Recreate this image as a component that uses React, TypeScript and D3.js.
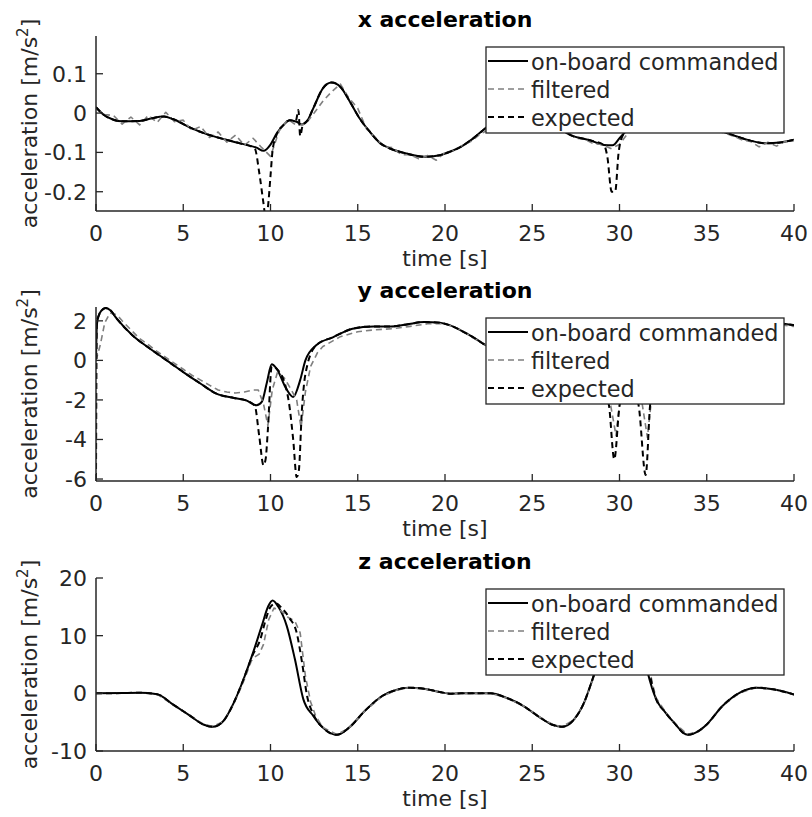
import React, { useRef, useEffect } from "react";
import * as d3 from "d3";

// ---- data ----
const timeTicks = [0, 5, 10, 15, 20, 25, 30, 35, 40];
const legendLabels = ["on-board commanded", "filtered", "expected"];
const panelTitles = ["x acceleration", "y acceleration", "z acceleration"];

// x acceleration
const xTicks = [-0.2, -0.1, 0, 0.1];
const xCmdTime = [0, 0.4, 1.0, 1.5, 2.5, 3.2, 3.9, 4.4, 5.4, 6.3, 7.3, 8.25, 9.2, 9.6, 10.0, 10.35, 10.75, 11.1, 11.5, 11.8, 12.1, 12.45, 13.0, 13.5, 14.0, 14.55, 15.1, 15.7, 16.3, 16.85, 17.8, 18.8, 19.7, 20.3, 20.9, 21.6, 22.3, 23.0, 24.0, 25.0, 26.0, 26.6, 27.2, 28.3, 29.1, 29.6, 30.0, 30.4, 31.5, 33.0, 34.5, 35.8, 36.5, 37.5, 38.4, 39.2, 40];
const xCmdVal = [0.015, -0.003, -0.017, -0.021, -0.02, -0.013, -0.009, -0.015, -0.037, -0.053, -0.066, -0.077, -0.088, -0.096, -0.08, -0.052, -0.03, -0.018, -0.022, -0.029, -0.02, 0.012, 0.063, 0.078, 0.067, 0.029, -0.013, -0.048, -0.077, -0.09, -0.103, -0.111, -0.107, -0.098, -0.086, -0.065, -0.039, -0.015, 0.0, 0.0, -0.02, -0.04, -0.056, -0.069, -0.081, -0.082, -0.064, -0.045, -0.02, -0.005, -0.02, -0.045, -0.056, -0.07, -0.077, -0.075, -0.068];
const xFiltTime = [0, 0.5, 1, 1.5, 2, 2.5, 3, 3.5, 4, 4.5, 5, 5.5, 6, 6.5, 7, 7.5, 8, 8.5, 9, 9.5, 10, 10.5, 11, 11.5, 12, 12.5, 13, 13.5, 14, 14.5, 15, 15.5, 16, 16.5, 17, 17.5, 18, 18.5, 19, 19.5, 20, 20.5, 21, 21.5, 22, 22.5, 23, 23.5, 24, 24.5, 25, 25.5, 26, 26.5, 27, 27.5, 28, 28.5, 29, 29.5, 30, 30.5, 31, 31.5, 32, 32.5, 33, 33.5, 34, 34.5, 35, 35.5, 36, 36.5, 37, 37.5, 38, 38.5, 39, 39.5, 40];
const xFiltVal = [0.012, -0.004, -0.006, -0.028, -0.01, -0.03, -0.006, -0.024, 0.002, -0.022, -0.018, -0.044, -0.034, -0.062, -0.048, -0.074, -0.056, -0.082, -0.064, -0.088, -0.11, -0.045, -0.016, -0.032, -0.028, 0.0, 0.03, 0.054, 0.074, 0.038, 0.012, -0.04, -0.062, -0.086, -0.088, -0.106, -0.106, -0.116, -0.108, -0.12, -0.1, -0.096, -0.082, -0.072, -0.054, -0.042, -0.02, -0.014, -0.002, -0.006, 0.004, -0.012, -0.018, -0.036, -0.048, -0.064, -0.066, -0.078, -0.08, -0.09, -0.08, -0.05, -0.04, -0.03, -0.016, -0.012, 0.0, -0.012, -0.008, -0.026, -0.028, -0.046, -0.05, -0.058, -0.068, -0.072, -0.086, -0.074, -0.084, -0.072, -0.07];
const xExpTime = [0, 0.4, 1.0, 1.5, 2.5, 3.2, 3.9, 4.4, 5.4, 6.3, 7.3, 8.25, 9.1, 9.35, 9.6, 9.72, 9.85, 10.0, 10.12, 10.35, 10.75, 11.1, 11.45, 11.6, 11.7, 11.85, 12.1, 12.45, 13.0, 13.5, 14.0, 14.55, 15.1, 15.7, 16.3, 16.85, 17.8, 18.8, 19.7, 20.3, 20.9, 21.6, 22.3, 23.0, 24.0, 25.0, 26.0, 26.6, 27.2, 28.3, 29.1, 29.3, 29.55, 29.75, 29.95, 30.1, 30.4, 31.5, 33.0, 34.5, 35.8, 36.5, 37.5, 38.4, 39.2, 40];
const xExpVal = [0.015, -0.003, -0.017, -0.021, -0.02, -0.013, -0.009, -0.015, -0.037, -0.053, -0.066, -0.077, -0.09, -0.15, -0.23, -0.265, -0.24, -0.16, -0.095, -0.055, -0.03, -0.018, -0.02, 0.008, -0.058, -0.03, -0.02, 0.012, 0.063, 0.078, 0.067, 0.029, -0.013, -0.048, -0.077, -0.09, -0.103, -0.111, -0.107, -0.098, -0.086, -0.065, -0.039, -0.015, 0.0, 0.0, -0.02, -0.04, -0.056, -0.069, -0.081, -0.11, -0.2, -0.2, -0.1, -0.066, -0.045, -0.02, -0.005, -0.02, -0.045, -0.056, -0.07, -0.077, -0.075, -0.068];

// y acceleration
const yTicks = [-6, -4, -2, 0, 2];
const yCmdTime = [0, 0.05, 0.15, 0.3, 0.55, 0.8, 1.2, 2.1, 3.1, 4.05, 5.0, 6.0, 6.9, 7.9, 8.6, 9.2, 9.5, 9.8, 10.07, 10.35, 10.9, 11.3, 11.7, 12.0, 12.6, 13.6, 14.7, 15.9, 16.9, 17.8, 18.8, 19.7, 20.3, 20.9, 21.6, 22.2, 23, 24, 25, 26, 27, 28, 29, 29.5, 30, 30.5, 31, 31.5, 32, 33, 34, 35, 36, 37, 38, 39, 39.5, 40];
const yCmdVal = [0, 1.8, 2.25, 2.5, 2.65, 2.55, 2.1, 1.26, 0.59, 0.0, -0.59, -1.18, -1.68, -1.9, -2.02, -2.27, -2.1, -1.09, -0.2, -0.42, -1.43, -1.85, -1.0, 0.0, 0.75, 1.18, 1.6, 1.72, 1.72, 1.82, 1.94, 1.9, 1.77, 1.52, 1.18, 0.84, 0.5, 0.2, 0.0, 0.1, 0.3, 0.0, -1.2, -2.0, -1.0, -0.5, -1.0, -1.8, -0.8, 0.5, 1.2, 1.5, 1.7, 1.8, 1.9, 1.88, 1.84, 1.78];
const yFiltTime = [0, 0.25, 0.5, 0.8, 1.2, 1.5, 2.0, 2.5, 3.0, 3.5, 4.0, 4.5, 5.0, 5.5, 6.0, 6.5, 7.0, 7.5, 8.0, 8.5, 9.0, 9.3, 9.6, 9.85, 10.1, 10.4, 10.8, 11.2, 11.5, 11.75, 12.0, 12.3, 12.7, 13.0, 13.5, 14.0, 15, 16, 17, 18, 19, 20, 20.5, 21, 21.5, 22, 22.5, 23, 24, 25, 26, 27, 28, 29, 29.5, 29.8, 30.1, 30.5, 31, 31.3, 31.6, 31.9, 32.5, 33, 34, 35, 36, 37, 38, 39, 40];
const yFiltVal = [0, 0.8, 1.9, 2.4, 2.3, 2.0, 1.55, 1.1, 0.8, 0.45, 0.15, -0.15, -0.45, -0.75, -1.0, -1.25, -1.5, -1.6, -1.65, -1.6, -1.5, -1.5, -2.2, -3.3, -1.5, -0.6, -0.9, -1.5, -2.0, -3.4, -1.6, -0.3, 0.4, 0.7, 0.95, 1.2, 1.45, 1.55, 1.6, 1.72, 1.85, 1.85, 1.7, 1.5, 1.2, 0.95, 0.7, 0.4, 0.15, -0.05, 0.05, 0.2, -0.1, -1.3, -2.3, -3.8, -1.5, -0.6, -1.2, -2.2, -3.9, -1.4, -0.5, 0.3, 1.0, 1.4, 1.6, 1.75, 1.85, 1.82, 1.72];
const yExpTime = [0, 0.05, 0.15, 0.3, 0.55, 0.8, 1.2, 2.1, 3.1, 4.05, 5.0, 6.0, 6.9, 7.9, 8.6, 9.1, 9.35, 9.6, 9.72, 9.85, 10.07, 10.35, 10.9, 11.05, 11.3, 11.5, 11.62, 11.8, 12.0, 12.6, 13.6, 14.7, 15.9, 16.9, 17.8, 18.8, 19.7, 20.3, 20.9, 21.6, 22.2, 23, 24, 25, 26, 27, 28, 29, 29.4, 29.7, 30.0, 30.5, 31.1, 31.5, 31.75, 32, 33, 34, 35, 36, 37, 38, 39, 39.5, 40];
const yExpVal = [-6.0, 2.0, 2.25, 2.5, 2.65, 2.55, 2.1, 1.26, 0.59, 0.0, -0.59, -1.18, -1.68, -1.9, -2.02, -2.3, -3.8, -5.3, -5.0, -3.5, -0.3, -0.42, -1.43, -2.1, -4.0, -5.9, -5.6, -2.5, -0.7, 0.75, 1.18, 1.6, 1.72, 1.72, 1.82, 1.94, 1.9, 1.77, 1.52, 1.18, 0.84, 0.5, 0.2, 0.0, 0.1, 0.3, 0.0, -1.2, -2.3, -5.0, -2.3, -0.8, -2.3, -5.8, -2.3, -0.8, 0.5, 1.2, 1.5, 1.7, 1.8, 1.9, 1.88, 1.84, 1.78];

// z acceleration
const zTicks = [-10, 0, 10, 20];
const zCmdTime = [0, 1.5, 2.5, 3.5, 4.4, 5.4, 6.15, 6.7, 7.3, 7.9, 8.45, 9.0, 9.5, 9.87, 10.12, 10.45, 10.93, 11.4, 11.88, 12.45, 13.0, 13.8, 14.5, 15.4, 16.4, 17.2, 17.9, 18.8, 19.7, 20.3, 20.9, 22.6, 23.5, 24.5, 25.45, 26.2, 26.7, 27.4, 27.97, 28.45, 29.0, 29.5, 29.9, 30.2, 30.6, 31.1, 31.6, 32.1, 32.6, 33.1, 33.9, 34.5, 35.0, 35.9, 36.9, 37.85, 38.8, 40];
const zCmdVal = [0, 0.05, 0.1, -0.15, -1.9, -3.9, -5.4, -5.8, -4.8, -1.6, 2.4, 7.05, 11.7, 15.1, 16.1, 15.0, 11.7, 5.9, -1.0, -3.9, -5.95, -7.2, -5.95, -3.06, -0.46, 0.58, 0.98, 0.8, 0.23, -0.06, 0.0, 0.0, -0.75, -2.2, -4.2, -5.5, -5.8, -4.5, -1.6, 2.4, 7.5, 12.5, 15.5, 16.0, 15.0, 11.0, 3.8, -1.0, -3.2, -5.0, -7.2, -6.6, -5.4, -2.2, 0.12, 0.98, 0.69, -0.2];
const zFiltTime = [0, 1.5, 2.5, 3.5, 4.4, 5.4, 6.15, 6.7, 7.3, 7.9, 8.45, 8.9, 9.1, 9.35, 9.6, 9.9, 10.2, 10.6, 11.0, 11.4, 11.7, 12.0, 12.3, 12.6, 13.0, 13.8, 14.5, 15.4, 16.4, 17.2, 17.9, 18.8, 19.7, 20.3, 20.9, 22.6, 23.5, 24.5, 25.45, 26.2, 26.7, 27.4, 27.97, 28.45, 29.0, 29.5, 29.9, 30.2, 30.6, 31.1, 31.6, 31.9, 32.1, 32.6, 33.1, 33.9, 34.5, 35.0, 35.9, 36.9, 37.85, 38.8, 40];
const zFiltVal = [0, 0.05, 0.1, -0.15, -1.95, -3.9, -5.35, -5.75, -4.9, -1.8, 2.0, 5.6, 6.3, 6.8, 8.5, 12.8, 14.8, 14.3, 13.2, 12.5, 10.5, 3.0, -1.5, -4.0, -5.9, -7.15, -6.0, -3.1, -0.5, 0.55, 0.98, 0.8, 0.25, -0.05, 0.0, 0.0, -0.75, -2.2, -4.15, -5.45, -5.8, -4.6, -1.7, 2.2, 7.0, 12.0, 15.0, 15.8, 15.0, 12.0, 6.0, 1.5, -0.8, -3.1, -5.0, -7.15, -6.6, -5.4, -2.2, 0.12, 0.98, 0.7, -0.2];
const zExpTime = [0, 1.5, 2.5, 3.5, 4.4, 5.4, 6.15, 6.7, 7.3, 7.9, 8.45, 9.0, 9.4, 9.7, 10.0, 10.3, 10.7, 11.1, 11.5, 11.8, 12.1, 12.45, 13.0, 13.8, 14.5, 15.4, 16.4, 17.2, 17.9, 18.8, 19.7, 20.3, 20.9, 22.6, 23.5, 24.5, 25.45, 26.2, 26.7, 27.4, 27.97, 28.45, 29.0, 29.5, 29.9, 30.2, 30.6, 31.1, 31.6, 31.9, 32.1, 32.6, 33.1, 33.9, 34.5, 35.0, 35.9, 36.9, 37.85, 38.8, 40];
const zExpVal = [0, 0.05, 0.1, -0.15, -1.9, -3.9, -5.4, -5.8, -4.8, -1.6, 2.4, 6.8, 9.2, 12.5, 15.0, 15.6, 14.6, 13.0, 10.5, 5.5, -0.5, -3.6, -5.95, -7.2, -5.95, -3.06, -0.46, 0.58, 0.98, 0.8, 0.23, -0.06, 0.0, 0.0, -0.75, -2.2, -4.2, -5.5, -5.8, -4.5, -1.6, 2.4, 7.3, 12.2, 15.2, 15.9, 15.0, 11.5, 5.5, 1.0, -1.0, -3.2, -5.0, -7.2, -6.6, -5.4, -2.2, 0.12, 0.98, 0.69, -0.2];

// ---- layout ----
const FONT = "DejaVu Sans, sans-serif";
const TEXT = "#262626";
const LEFT = 96;
const RIGHT = 794;

const panels = [
  { title: panelTitles[0], top: 36, bottom: 211, domain: [-0.249, 0.196], ticks: xTicks,
    cmd: [xCmdTime, xCmdVal], filt: [xFiltTime, xFiltVal], exp: [xExpTime, xExpVal] },
  { title: panelTitles[1], top: 307, bottom: 481, domain: [-6.1, 2.7], ticks: yTicks,
    cmd: [yCmdTime, yCmdVal], filt: [yFiltTime, yFiltVal], exp: [yExpTime, yExpVal] },
  { title: panelTitles[2], top: 578, bottom: 751, domain: [-10, 20], ticks: zTicks,
    cmd: [zCmdTime, zCmdVal], filt: [zFiltTime, zFiltVal], exp: [zExpTime, zExpVal] },
];

const seriesStyles = [
  { key: "cmd", color: "#000000", width: 2, dash: null, curve: d3.curveMonotoneX },
  { key: "filt", color: "#7f7f7f", width: 1.6, dash: "6,4", curve: d3.curveLinear },
  { key: "exp", color: "#000000", width: 2, dash: "6,4", curve: d3.curveMonotoneX },
];

export default function App() {
  const svgRef = useRef(null);

  useEffect(() => {
    const svg = d3.select(svgRef.current);
    svg.selectAll("*").remove();

    const x = d3.scaleLinear().domain([0, 40]).range([LEFT, RIGHT]);

    panels.forEach((p, pi) => {
      const y = d3.scaleLinear().domain(p.domain).range([p.bottom, p.top]);
      const g = svg.append("g");

      const clipId = `clip-${pi}`;
      g.append("clipPath")
        .attr("id", clipId)
        .append("rect")
        .attr("x", LEFT)
        .attr("y", p.top)
        .attr("width", RIGHT - LEFT)
        .attr("height", p.bottom - p.top);

      // data lines
      const plot = g.append("g").attr("clip-path", `url(#${clipId})`);
      seriesStyles.forEach((s) => {
        const [ts, vs] = p[s.key];
        const pts = ts.map((t, i) => [t, vs[i]]);
        const line = d3
          .line()
          .x((d) => x(d[0]))
          .y((d) => y(d[1]))
          .curve(s.curve);
        plot
          .append("path")
          .attr("d", line(pts))
          .attr("fill", "none")
          .attr("stroke", s.color)
          .attr("stroke-width", s.width)
          .attr("stroke-dasharray", s.dash)
          .attr("stroke-linejoin", "round");
      });

      // axes (box off, ticks pointing in)
      g.append("line")
        .attr("x1", LEFT).attr("x2", LEFT)
        .attr("y1", p.top).attr("y2", p.bottom)
        .attr("stroke", TEXT).attr("stroke-width", 1.5);
      g.append("line")
        .attr("x1", LEFT).attr("x2", RIGHT)
        .attr("y1", p.bottom).attr("y2", p.bottom)
        .attr("stroke", TEXT).attr("stroke-width", 1.5);

      timeTicks.forEach((t) => {
        g.append("line")
          .attr("x1", x(t)).attr("x2", x(t))
          .attr("y1", p.bottom).attr("y2", p.bottom - 7)
          .attr("stroke", TEXT).attr("stroke-width", 1.3);
        g.append("text")
          .attr("x", x(t))
          .attr("y", p.bottom + 30)
          .attr("text-anchor", "middle")
          .attr("font-family", FONT)
          .attr("font-size", 22)
          .attr("fill", TEXT)
          .text(String(t));
      });

      p.ticks.forEach((v) => {
        g.append("line")
          .attr("x1", LEFT).attr("x2", LEFT + 7)
          .attr("y1", y(v)).attr("y2", y(v))
          .attr("stroke", TEXT).attr("stroke-width", 1.3);
        g.append("text")
          .attr("x", LEFT - 9)
          .attr("y", y(v))
          .attr("dy", "0.36em")
          .attr("text-anchor", "end")
          .attr("font-family", FONT)
          .attr("font-size", 22)
          .attr("fill", TEXT)
          .text(String(v));
      });

      // x label
      g.append("text")
        .attr("x", (LEFT + RIGHT) / 2)
        .attr("y", p.bottom + 55)
        .attr("text-anchor", "middle")
        .attr("font-family", FONT)
        .attr("font-size", 22)
        .attr("fill", TEXT)
        .text("time [s]");

      // y label with superscript
      const yl = g.append("text")
        .attr("transform", `translate(37,${(p.top + p.bottom) / 2}) rotate(-90)`)
        .attr("text-anchor", "middle")
        .attr("font-family", FONT)
        .attr("font-size", 22)
        .attr("fill", TEXT);
      yl.append("tspan").text("acceleration [m/s");
      yl.append("tspan").attr("dy", -9).attr("font-size", 15).text("2");
      yl.append("tspan").attr("dy", 9).text("]");

      // title
      g.append("text")
        .attr("x", (LEFT + RIGHT) / 2)
        .attr("y", p.top - 9)
        .attr("text-anchor", "middle")
        .attr("font-family", FONT)
        .attr("font-size", 22)
        .attr("font-weight", "bold")
        .attr("fill", "#000")
        .text(p.title);

      // legend
      const lx = 486;
      const ly = p.top + 11;
      const leg = g.append("g");
      leg.append("rect")
        .attr("x", lx).attr("y", ly)
        .attr("width", 298).attr("height", 86)
        .attr("fill", "#fff")
        .attr("stroke", TEXT)
        .attr("stroke-width", 1.3);
      legendLabels.forEach((lab, li) => {
        const s = seriesStyles[li];
        const rowY = ly + 14 + li * 28;
        leg.append("line")
          .attr("x1", lx + 2).attr("x2", lx + 42)
          .attr("y1", rowY).attr("y2", rowY)
          .attr("stroke", s.color)
          .attr("stroke-width", s.width)
          .attr("stroke-dasharray", s.dash);
        leg.append("text")
          .attr("x", lx + 45)
          .attr("y", rowY + 9)
          .attr("font-family", FONT)
          .attr("font-size", 22.4)
          .attr("fill", TEXT)
          .text(lab);
      });
    });
  }, []);

  return (
    <svg
      ref={svgRef}
      width={812}
      height={817}
      style={{ position: "absolute", left: 0, top: 0, background: "#fff" }}
    />
  );
}
